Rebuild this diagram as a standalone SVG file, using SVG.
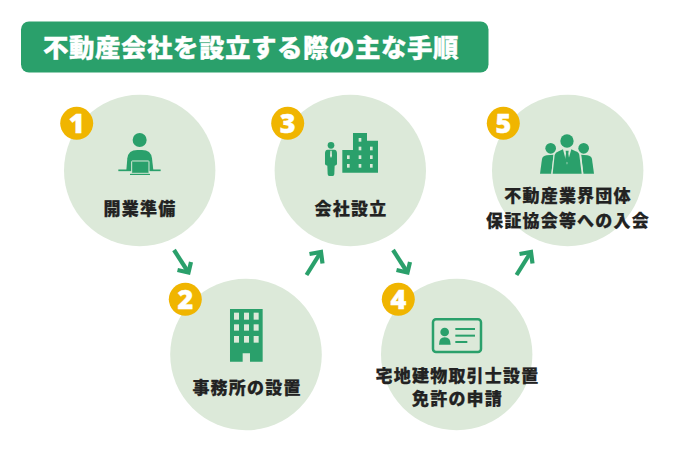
<svg xmlns="http://www.w3.org/2000/svg" width="700" height="450" viewBox="0 0 700 450">
<style>
.c{fill:#dce9d9}
.b{fill:#f0b500}
.n{fill:#fff;stroke:#fff;stroke-width:.4px;font:800 27px "Open Sans","Noto Sans",sans-serif;text-anchor:middle}
.t{fill:#222;stroke:#222;stroke-width:.25px;font:900 17px "Noto Sans CJK JP",sans-serif;text-anchor:middle;letter-spacing:1.2px}
.g{fill:#2aa06b}
.l{fill:#dce9d9}
.a{fill:none;stroke:#2aa06b;stroke-width:4.200;stroke-miterlimit:8}
</style>
<rect width="700" height="450" fill="#fff"/>
<g id="title">
<rect x="21" y="21.500" width="467.500" height="51" rx="8" class="g"/>
<text x="251" y="57" fill="#fff" stroke="#fff" stroke-width=".3" text-anchor="middle" style="font:900 25.500px 'Noto Sans CJK JP',sans-serif;letter-spacing:.5px">不動産会社を設立する際の主な手順</text>
</g>
<g id="connectors">
<path class="a" d="M174 250 L187.500 271"/><path class="a" d="M177.500 270 L188.500 272.500 L191 262"/>
<path class="a" d="M306.500 275 L320 253.500"/><path class="a" d="M309.500 254 L321 252 L322.500 263.500"/>
<path class="a" d="M393 250 L406.500 271"/><path class="a" d="M396.500 270 L407.500 272.500 L410 262"/>
<path class="a" d="M516.500 275 L530 253.500"/><path class="a" d="M519.500 254 L531 252 L532.500 263.500"/>
</g>
<g id="node1">
<circle class="c" cx="139.700" cy="170.500" r="75.700"/>
<circle class="b" cx="76.700" cy="123.300" r="16.500"/>
<text class="n" x="76.700" y="133">1</text>
<g transform="translate(50,90) scale(.3333)">
<circle class="g" cx="269" cy="150" r="21"/>
<path class="g" d="M229 241 L232 205 Q235 180 262 180 H276 Q303 180 306 205 L310 241Z"/>
<rect class="g" x="205" y="238.500" width="127" height="5"/>
<rect class="g" x="245" y="213" width="52" height="37" rx="2" stroke="#dce9d9" stroke-width="3"/>
<rect class="g" x="240" y="251.500" width="60" height="3.500"/>
</g>
<text class="t" x="140" y="215">開業準備</text>
</g>
<g id="node2">
<circle class="c" cx="246" cy="354.500" r="75.800"/>
<circle class="b" cx="185.300" cy="299.300" r="16.500"/>
<text class="n" x="185.300" y="309">2</text>
<g transform="translate(160,240) scale(.3333)">
<path class="g" d="M210 207 H308 V365 H270 V340 H248 V365 H210Z"/>
<g class="l">
<rect x="222" y="218" width="15" height="21"/><rect x="252" y="218" width="15" height="21"/><rect x="281" y="218" width="15" height="21"/>
<rect x="222" y="253" width="15" height="19"/><rect x="252" y="253" width="15" height="19"/><rect x="281" y="253" width="15" height="19"/>
<rect x="222" y="288" width="15" height="20"/><rect x="252" y="288" width="15" height="20"/><rect x="281" y="288" width="15" height="20"/>
</g>
</g>
<text class="t" x="247" y="393.500">事務所の設置</text>
</g>
<g id="node3">
<circle class="c" cx="350.300" cy="170.500" r="75.700"/>
<circle class="b" cx="287.700" cy="123.300" r="16.500"/>
<text class="n" x="287.700" y="133">3</text>
<g transform="translate(265,90) scale(.3333)">
<circle class="g" cx="198" cy="166" r="10"/>
<path class="g" d="M188 179 H208 Q216 180 216 190 V222 Q216 226 209 227 L208 252 Q208 258 203 258 H193 Q188 258 188 252 L187 227 Q180 226 180 222 V190 Q180 180 188 179Z"/>
<path d="M196 182 H200 L201 198 L198 204 L195 198Z" fill="#dce9d9"/>
<path class="g" d="M232 180 H264 V129 H306 V152 H339 V248 H232Z"/>
<g class="l">
<rect x="281" y="144" width="8" height="11"/><rect x="281" y="170" width="8" height="11"/><rect x="315" y="170" width="8" height="11"/>
<rect x="246" y="196" width="8" height="11"/><rect x="281" y="196" width="8" height="11"/><rect x="315" y="196" width="8" height="11"/>
<rect x="246" y="222" width="8" height="11"/><rect x="281" y="222" width="8" height="11"/><rect x="315" y="222" width="8" height="11"/>
</g>
</g>
<text class="t" x="351" y="215">会社設立</text>
</g>
<g id="node4">
<circle class="c" cx="456.700" cy="354.500" r="75.700"/>
<circle class="b" cx="398.300" cy="299.300" r="16.500"/>
<text class="n" x="398.300" y="309">4</text>
<g transform="translate(375,240) scale(.3333)">
<rect x="174" y="238" width="144" height="98" rx="9" fill="none" stroke="#2aa06b" stroke-width="7.500"/>
<circle class="g" cx="209" cy="276" r="13"/>
<path class="g" d="M192 314 Q192 292 209 292 Q227 292 227 314 H192Z"/>
<rect class="g" x="241" y="264" width="59" height="6"/>
<rect class="g" x="241" y="284" width="59" height="6"/>
<rect class="g" x="241" y="303" width="36" height="6"/>
</g>
<text class="t" x="457.500" y="382">宅地建物取引士設置</text>
<text class="t" x="457.500" y="405">免許の申請</text>
</g>
<g id="node5">
<circle class="c" cx="567.700" cy="170.500" r="75.700"/>
<circle class="b" cx="503.300" cy="123.300" r="16.500"/>
<text class="n" x="503.300" y="133">5</text>
<g transform="translate(480,90) scale(.3333)">
<circle class="g" cx="212" cy="175" r="16"/>
<circle class="g" cx="311" cy="175" r="16"/>
<circle class="g" cx="261" cy="153" r="20"/>
<path class="g" d="M180 251 L186 207 Q188 198 200 196 L221 194 L214 251Z"/>
<path class="g" d="M342 251 L336 207 Q334 198 322 196 L303 194 L310 251Z"/>
<path class="l" d="M214 251 L221 190 H303 L310 251Z"/>
<path class="g" d="M218 251 L224 195 Q226 187 236 184 L249 178 L261 224 L274 178 L287 184 Q297 187 298 195 L305 251Z"/>
<path class="g" d="M257 182 H266 L265 191 L268 210 L261 220 L255 210 L258 191Z"/>
</g>
<text class="t" x="568" y="202">不動産業界団体</text>
<text class="t" x="568" y="227">保証協会等への入会</text>
</g>
</svg>
